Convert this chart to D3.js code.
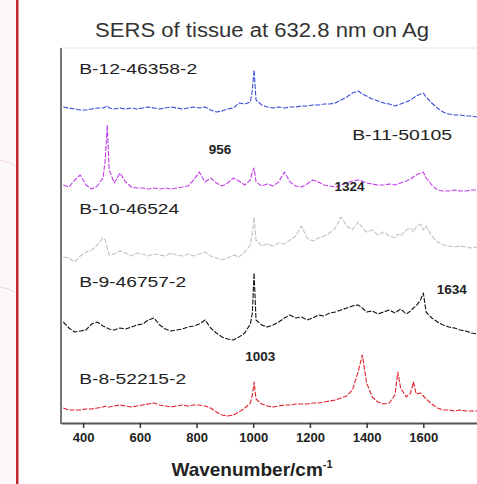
<!DOCTYPE html>
<html lang="en">
<head>
<meta charset="utf-8">
<title>SERS of tissue</title>
<script src="https://cdn.jsdelivr.net/npm/d3@7"></script>
<style>
  body { margin: 0; background: #fff; }
  svg { display: block; font-family: Arial, "Liberation Sans", sans-serif; }
</style>
</head>
<body>
<div id="chart"></div>
<script>
// wavenumber grid shared by all spectra (cm-1)
var wavenumbers = [330, 350, 370, 390, 410, 430, 450, 470, 478, 485,
  492, 510, 530, 550, 570, 590, 610, 630, 650, 670,
  690, 710, 730, 750, 770, 790, 810, 830, 850, 870,
  890, 910, 930, 950, 970, 990, 997, 1003, 1010, 1030,
  1050, 1070, 1090, 1110, 1130, 1150, 1170, 1190, 1210, 1230,
  1250, 1270, 1290, 1310, 1330, 1350, 1370, 1385, 1400, 1420,
  1440, 1460, 1480, 1500, 1510, 1520, 1540, 1555, 1565, 1575,
  1590, 1600, 1610, 1630, 1650, 1670, 1690, 1710, 1730, 1750,
  1770, 1790];

// stacked intensities (a.u., offset included)
var b12 = [316, 315, 314, 313, 313, 314, 315, 315, 316, 317,
  315, 314, 315, 314, 315, 314, 315, 316, 315, 314,
  315, 316, 315, 314, 315, 316, 315, 316, 313, 311,
  312, 314, 315, 320, 319, 321, 333, 353, 323, 318,
  316, 315, 316, 315, 316, 316, 317, 317, 318, 318,
  319, 319, 320, 323, 326, 330, 332, 329, 327, 324,
  322, 320, 319, 317, 318, 319, 321, 323, 325, 327,
  329, 330, 326, 320, 315, 311, 309, 308, 308, 307,
  307, 306];
var b11 = [238, 236, 243, 248, 238, 234, 237, 245, 263, 298,
  253, 240, 250, 241, 236, 235, 235, 234, 235, 234,
  235, 234, 235, 236, 237, 243, 251, 241, 245, 240,
  237, 240, 245, 242, 238, 243, 251, 255, 241, 237,
  239, 237, 241, 251, 241, 237, 236, 239, 243, 241,
  238, 237, 236, 238, 240, 242, 243, 242, 240, 239,
  238, 238, 239, 238, 239, 240, 242, 244, 246, 248,
  250, 251, 245, 238, 233, 232, 232, 233, 232, 232,
  233, 233];
var b10 = [166, 165, 161, 167, 171, 173, 178, 185, 183, 175,
  168, 169, 172, 170, 167, 170, 169, 167, 169, 168,
  167, 170, 168, 167, 169, 167, 169, 171, 167, 165,
  163, 165, 168, 166, 171, 178, 191, 206, 183, 177,
  179, 177, 180, 179, 183, 187, 197, 185, 182, 185,
  187, 190, 195, 206, 197, 193, 201, 195, 191, 193,
  188, 191, 187, 185, 189, 187, 193, 195, 191, 196,
  199, 193, 197, 187, 181, 178, 177, 176, 177, 176,
  175, 176];
var b9 = [101, 95, 91, 92, 93, 99, 101, 97, 96, 95,
  94, 93, 95, 94, 96, 98, 99, 103, 105, 98,
  94, 92, 93, 94, 96, 97, 99, 103, 95, 90,
  86, 84, 83, 86, 90, 99, 110, 150, 103, 98,
  96, 98, 101, 105, 108, 105, 106, 103, 105, 108,
  107, 110, 111, 113, 115, 117, 118, 115, 111, 112,
  109, 111, 113, 110, 112, 114, 109, 112, 115, 117,
  123, 130, 111, 105, 101, 98, 96, 95, 93, 92,
  90, 89];
var b8 = [15, 13, 13, 13, 14, 14, 15, 16, 17, 16,
  16, 17, 18, 17, 16, 17, 18, 19, 20, 18,
  17, 16, 17, 18, 17, 18, 18, 17, 15, 11,
  8, 7, 8, 11, 15, 20, 28, 41, 24, 19,
  17, 16, 17, 18, 18, 19, 19, 19, 20, 20,
  21, 22, 23, 25, 27, 33, 51, 68, 40, 26,
  21, 19, 20, 28, 51, 35, 26, 30, 41, 29,
  30, 27, 24, 19, 15, 13, 13, 12, 13, 12,
  12, 12];

var seriesNames = ["B-12-46358-2", "B-11-50105", "B-10-46524", "B-9-46757-2", "B-8-52215-2"];
var seriesColors = ["#3a4fd6", "#c23ee8", "#c2c2c2", "#111111", "#e0202a"];
var seriesValues = [b12, b11, b10, b9, b8];
// where each name sits: [wavenumber, intensity]
var nameAt = [[386, 349], [1349, 283], [386, 209], [386, 136], [386, 39]];
var nameWidth = [118, 100, 100, 107, 107];

// peak annotations: [wavenumber, intensity] of the label
var peakLabels = ["956", "1324", "1634", "1003"];
var peakAt = [[883, 269], [1340, 232], [1700, 129], [1025, 62]];

var tickValues = [400, 600, 800, 1000, 1200, 1400, 1600];

var W = 477, H = 484;
var plot = { left: 61, right: 480, top: 48, bottom: 423 };

var svg = d3.select("#chart").append("svg")
  .attr("width", W)
  .attr("height", H);

// page strip on the left with the red margin line
svg.append("rect").attr("x", 0).attr("y", 0).attr("width", 17).attr("height", H).attr("fill", "#fcf7f8");
svg.append("path").attr("d", "M0,160 Q8,161 15,166").attr("fill", "none").attr("stroke", "#f0d6d8").attr("stroke-width", 1);
svg.append("path").attr("d", "M0,287 Q8,288 15,292").attr("fill", "none").attr("stroke", "#f0d6d8").attr("stroke-width", 1);
svg.append("rect").attr("x", 16).attr("y", 0).attr("width", 2.5).attr("height", H).attr("fill", "#c1272d");

var x = d3.scaleLinear().domain([322, 1800]).range([plot.left, plot.right]);
var y = d3.scaleLinear().domain([0, 375]).range([plot.bottom, plot.top]);

svg.append("clipPath").attr("id", "clip")
  .append("rect")
  .attr("x", plot.left).attr("y", plot.top)
  .attr("width", plot.right - plot.left).attr("height", plot.bottom - plot.top);

// faint top frame
svg.append("line")
  .attr("x1", plot.left).attr("x2", W)
  .attr("y1", plot.top).attr("y2", plot.top)
  .attr("stroke", "#e4e4e4");

var line = d3.line()
  .x(function(d, i) { return x(wavenumbers[i]); })
  .y(function(d) { return y(d); });

svg.append("g").attr("clip-path", "url(#clip)")
  .selectAll("path")
  .data(seriesValues)
  .enter()
  .append("path")
  .attr("d", line)
  .attr("fill", "none")
  .attr("stroke", function(d, i) { return seriesColors[i]; })
  .attr("stroke-width", 1.1)
  .attr("stroke-dasharray", "5,1.5")
  .attr("stroke-linejoin", "round");

// x axis
var xAxis = d3.axisBottom(x)
  .tickValues(tickValues)
  .tickFormat(d3.format("d"))
  .tickSize(5).tickPadding(5).tickSizeOuter(0);
var gx = svg.append("g")
  .attr("transform", "translate(0," + plot.bottom + ")")
  .call(xAxis);
gx.select(".domain").attr("stroke", "#555").attr("stroke-width", 2);
gx.selectAll(".tick line").attr("stroke", "#333").attr("stroke-width", 1.5);
gx.selectAll(".tick text")
  .attr("font-size", 13)
  .attr("font-weight", "bold")
  .attr("fill", "#222")
  .attr("font-family", "Arial, 'Liberation Sans', sans-serif");

// left axis line
svg.append("line")
  .attr("x1", plot.left).attr("x2", plot.left)
  .attr("y1", plot.top).attr("y2", plot.bottom + 1)
  .attr("stroke", "#777").attr("stroke-width", 2);

// title
svg.append("text")
  .attr("x", 262).attr("y", 37)
  .attr("text-anchor", "middle")
  .attr("font-size", 20)
  .attr("fill", "#333")
  .attr("textLength", 334)
  .attr("lengthAdjust", "spacingAndGlyphs")
  .text("SERS of tissue at 632.8 nm on Ag");

// x label
var xl = svg.append("text")
  .attr("x", 252).attr("y", 476)
  .attr("text-anchor", "middle")
  .attr("font-size", 19)
  .attr("font-weight", "bold")
  .attr("fill", "#222");
xl.append("tspan").text("Wavenumber/cm");
xl.append("tspan").attr("dy", -8).attr("font-size", 11).text("-1");

// series names
svg.selectAll("text.series")
  .data(seriesNames)
  .enter()
  .append("text")
  .attr("class", "series")
  .attr("x", function(d, i) { return x(nameAt[i][0]); })
  .attr("y", function(d, i) { return y(nameAt[i][1]); })
  .attr("font-size", 14)
  .attr("textLength", function(d, i) { return nameWidth[i]; })
  .attr("lengthAdjust", "spacingAndGlyphs")
  .attr("fill", "#222")
  .text(function(d) { return d; });

// peak annotations
svg.selectAll("text.peak")
  .data(peakLabels)
  .enter()
  .append("text")
  .attr("class", "peak")
  .attr("x", function(d, i) { return x(peakAt[i][0]); })
  .attr("y", function(d, i) { return y(peakAt[i][1]); })
  .attr("text-anchor", "middle")
  .attr("font-size", 13.5)
  .attr("font-weight", "bold")
  .attr("fill", "#222")
  .text(function(d) { return d; });
</script>
</body>
</html>
